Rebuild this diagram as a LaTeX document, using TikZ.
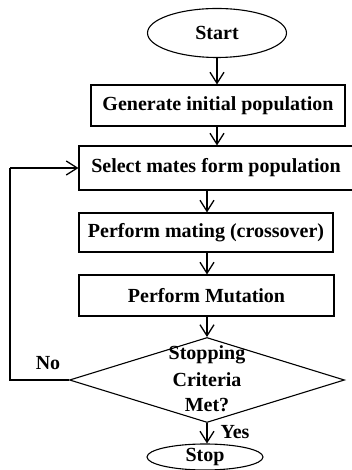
\documentclass[tikz,border=0pt]{standalone}
\usepackage{fontspec}
\setmainfont{Liberation Serif}
\usetikzlibrary{shapes.geometric,arrows.meta}

\tikzset{
  every node/.style={font=\fontsize{20}{25}\selectfont\bfseries},
  flowbox/.style={draw, line width=1.1pt, minimum height=41pt, inner sep=0pt},
  terminal/.style={draw, ellipse, line width=1.1pt, inner sep=0pt},
  decision/.style={draw, diamond, line width=1.1pt, inner sep=0pt, align=center},
  flow/.style={line width=1.3pt, -{Straight Barb[length=11pt,width=14pt,line width=1.3pt]}},
  loopline/.style={line width=1.8pt}
}

\begin{document}
\begin{tikzpicture}[x=1pt,y=1pt]
  \useasboundingbox (0,0) rectangle (351,470);

  \node[terminal, minimum width=139pt, minimum height=49pt] (start) at (217,437) {Start};
  \node[flowbox, minimum width=254pt] (gen) at (218,364.5) {Generate initial population};
  \node[flowbox, minimum width=274pt, minimum height=44pt] (sel) at (216,302) {Select mates form population};
  \node[flowbox, minimum width=254pt, minimum height=39pt] (mate) at (206,237.5) {Perform mating (crossover)};
  \node[flowbox, minimum width=255pt] (mut) at (206.5,174.5) {Perform Mutation};
  \node[decision, minimum width=275pt, minimum height=85pt] (dia) at (207,90) {};
  \node (q1) at (207,115) {Stopping};
  \node (q2) at (207,90) {Criteria};
  \node (q3) at (207,65) {Met?};
  \node[terminal, minimum width=116pt, minimum height=26pt] (stop) at (205,13) {Stop};

  \node (no) at (48,107) {No};
  \node (yes) at (235,38) {Yes};

  \coordinate (c1) at (217,0);
  \coordinate (c2) at (207,0);
  \draw[flow] (start.south) -- (start.south |- gen.north);
  \draw[flow] (gen.south -| c1) -- (sel.north -| c1);
  \draw[flow] (sel.south -| c2) -- (mate.north -| c2);
  \draw[flow] (mate.south -| c2) -- (mut.north -| c2);
  \draw[flow] (mut.south -| c2) -- (dia.north);
  \draw[flow] (dia.south) -- (stop.north -| dia.south);

  \coordinate (lb) at (10,90);
  \coordinate (lt) at (10,302);
  \draw[loopline] (dia.west) -- (lb) -- (lt);
  \draw[flow] (lt) -- (sel.west);
\end{tikzpicture}
\end{document}
